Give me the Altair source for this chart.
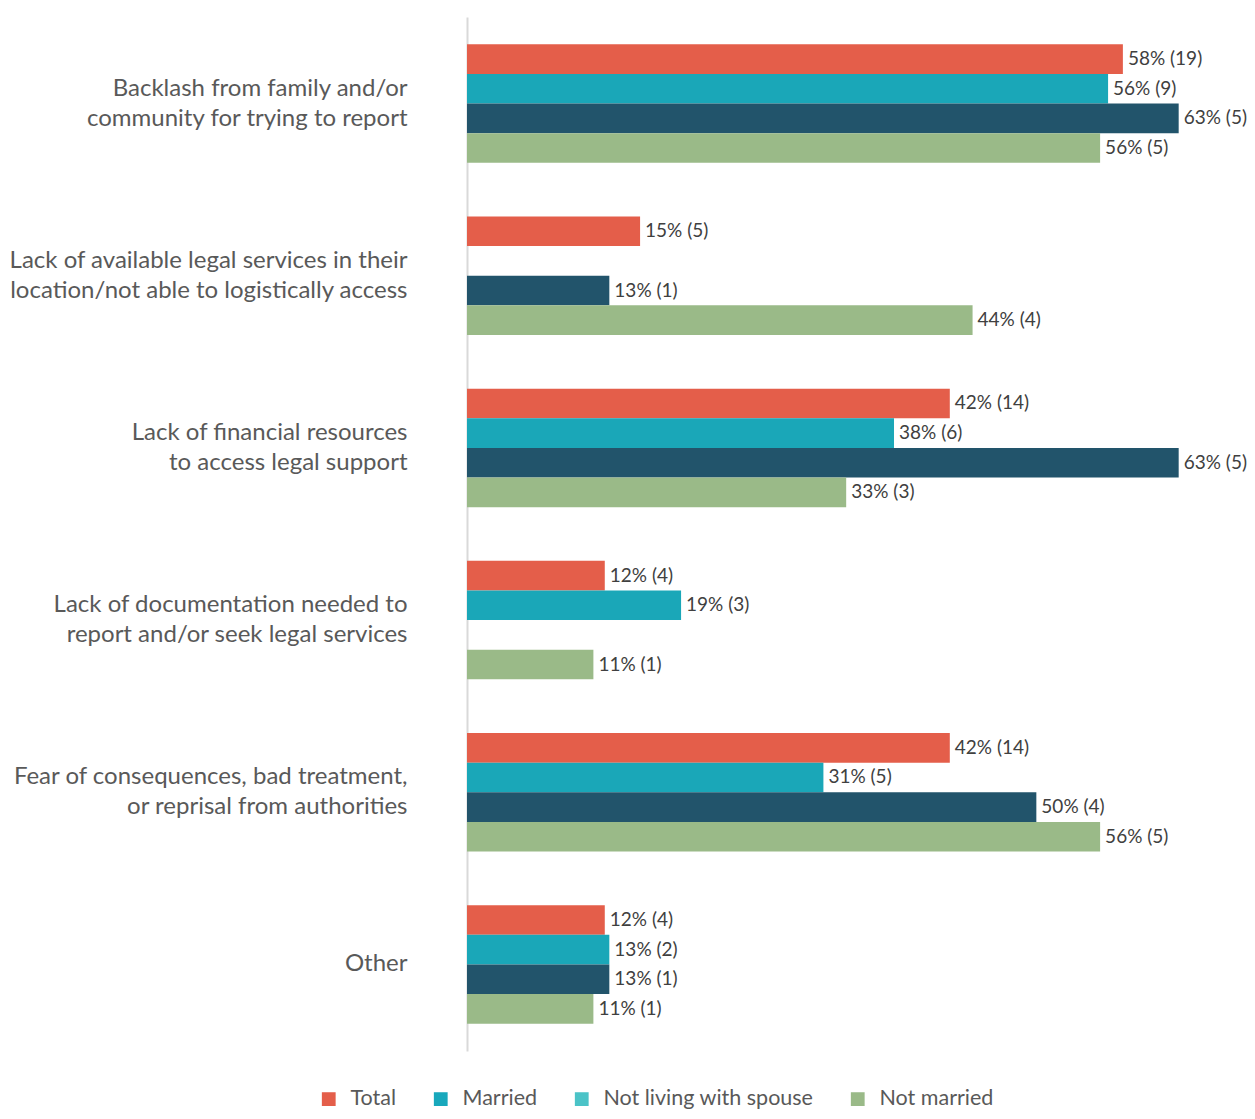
import altair as alt
import pandas as pd

categories = [
    "Backlash from family and/or|community for trying to report",
    "Lack of available legal services in their|location/not able to logistically access",
    "Lack of financial resources|to access legal support",
    "Lack of documentation needed to|report and/or seek legal services",
    "Fear of consequences, bad treatment,|or reprisal from authorities",
    "Other",
]
series = ["Total", "Married", "Not living with spouse", "Not married"]

total_pct = [57.6, 15.2, 42.4, 12.1, 42.4, 12.1]
total_lbl = ["58% (19)", "15% (5)", "42% (14)", "12% (4)", "42% (14)", "12% (4)"]
married_pct = [56.3, None, 37.5, 18.8, 31.3, 12.5]
married_lbl = ["56% (9)", None, "38% (6)", "19% (3)", "31% (5)", "13% (2)"]
notliving_pct = [62.5, 12.5, 62.5, None, 50.0, 12.5]
notliving_lbl = ["63% (5)", "13% (1)", "63% (5)", None, "50% (4)", "13% (1)"]
notmarried_pct = [55.6, 44.4, 33.3, 11.1, 55.6, 11.1]
notmarried_lbl = ["56% (5)", "44% (4)", "33% (3)", "11% (1)", "56% (5)", "11% (1)"]

bar_colors = ["#e45e4a", "#1aa7b8", "#22546b", "#9aba88"]
legend_names = ["Total", "Married", "Not living with spouse", "Not married"]
legend_colors = ["#e45e4a", "#18a8bc", "#4bc3c7", "#9aba88"]

rows = []
for s, pcts, lbls in zip(series,
                         [total_pct, married_pct, notliving_pct, notmarried_pct],
                         [total_lbl, married_lbl, notliving_lbl, notmarried_lbl]):
    for c, p, l in zip(categories, pcts, lbls):
        if p is not None:
            rows.append({"category": c, "series": s, "value": p, "label": l})
df = pd.DataFrame(rows)
legend_df = pd.DataFrame({"name": legend_names})

y_enc = alt.Y("category:N", sort=categories,
              scale=alt.Scale(paddingInner=0.312, paddingOuter=0.1585),
              axis=alt.Axis(title=None, ticks=False, domainColor="#d9d9d9", domainWidth=2,
                            labelExpr="split(datum.label, '|')", labelFontSize=24,
                            labelLineHeight=30, labelColor="#595959", labelPadding=60,
                            labelLimit=460, labelFont="Lato",
                            labelOffset={"condition": {"test": "indexof(datum.label, '|') < 0", "value": 0},
                                         "value": -15}))
yoff = alt.YOffset("series:N", sort=series, scale=alt.Scale(domain=series, paddingInner=0, paddingOuter=0))
x_enc = alt.X("value:Q", scale=alt.Scale(domain=[0, 68.5], nice=False, zero=True), axis=None)

base = alt.Chart(df)
bars = base.mark_bar().encode(
    x=x_enc, y=y_enc, yOffset=yoff,
    color=alt.Color("series:N", scale=alt.Scale(domain=series, range=bar_colors), legend=None),
)
texts = base.mark_text(align="left", baseline="middle", dx=5, fontSize=19,
                       color="#404040", font="Lato").encode(
    x=x_enc, y=y_enc, yOffset=yoff, text="label:N"
)
legend_layer = alt.Chart(legend_df).mark_square(opacity=0).encode(
    color=alt.Color("name:N", sort=legend_names,
                    scale=alt.Scale(domain=legend_names, range=legend_colors),
                    legend=alt.Legend(title=None, orient="none", direction="horizontal",
                                      legendX=-149, legendY=1071, symbolType="square",
                                      symbolSize=190, symbolOpacity=1, symbolStrokeWidth=0,
                                      labelFontSize=21.5, labelColor="#595959", labelFont="Lato",
                                      labelLimit=0, columnPadding=33, labelOffset=11))
)

chart = alt.layer(bars, texts, legend_layer).resolve_scale(color="independent").properties(
    width=780, height=1034,
    autosize=alt.AutoSizeParams(type="none"),
    padding={"left": 459, "top": 9, "right": 0, "bottom": 60},
).configure(font="Lato").configure_view(strokeWidth=0)

chart.save("out.html", embed_options={"renderer": "svg", "actions": False})
